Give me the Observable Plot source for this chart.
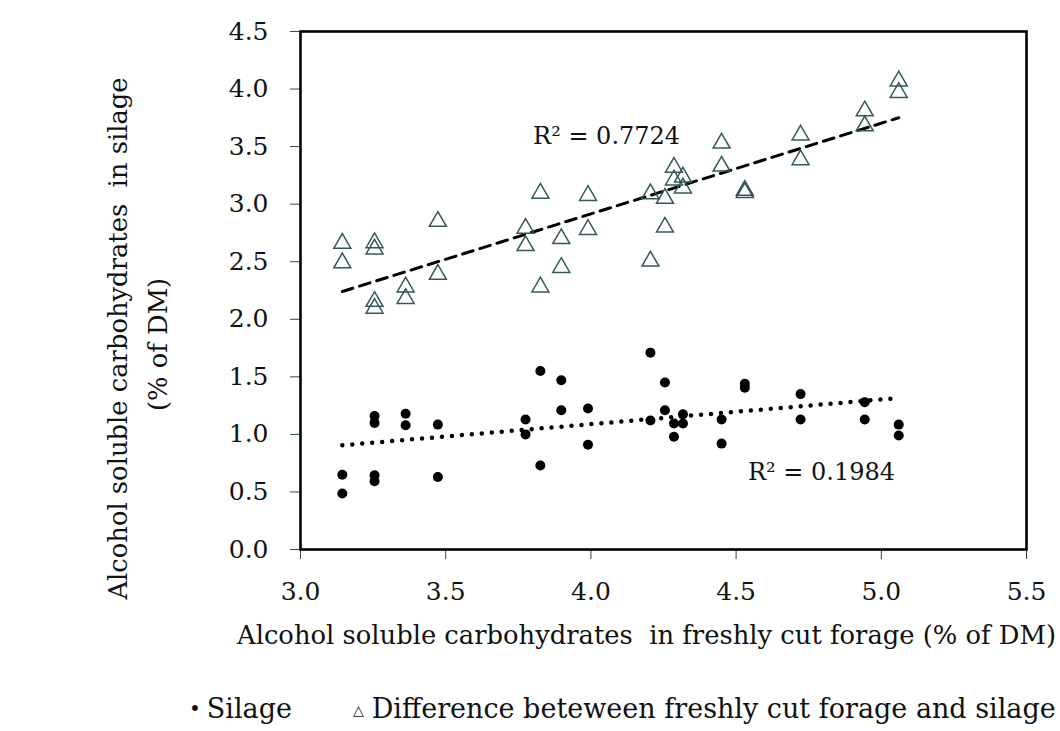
<!DOCTYPE html>
<html>
<head>
<meta charset="utf-8">
<script src="https://cdn.jsdelivr.net/npm/d3@7"></script>
<script src="https://cdn.jsdelivr.net/npm/@observablehq/plot@0.6"></script>
<style>
  html, body { margin: 0; padding: 0; background: #fff; }
  #wrap { position: relative; width: 1060px; height: 731px; font-family: "DejaVu Serif", serif; color: #111; }
  #legend { position: absolute; left: 189px; top: 691px; font-size: 27px; line-height: 36px; white-space: nowrap; }
  #legend .sym1 { font-size: 20px; margin-right: 6px; vertical-align: 2px; }
  #legend .sym2 { font-size: 14px; margin-left: 61px; margin-right: 8px; vertical-align: 3px; }
</style>
</head>
<body>
<div id="wrap">
  <div id="chart"></div>
  <div id="legend"><span class="sym1">•</span>Silage<span class="sym2">△</span>Difference beteween freshly cut forage and silage</div>
</div>
<script>
// Fresh forage ASC (% of DM) — x values, each appears for two samples
const freshX = [3.144, 3.144, 3.255, 3.255, 3.255, 3.255, 3.362, 3.362, 3.473, 3.473,
                3.775, 3.775, 3.826, 3.826, 3.898, 3.898, 3.99, 3.99, 4.205, 4.205,
                4.255, 4.255, 4.286, 4.286, 4.317, 4.317, 4.45, 4.45, 4.53, 4.53,
                4.722, 4.722, 4.943, 4.943, 5.06, 5.06];
// Silage ASC (% of DM)
const silageY = [0.65, 0.486, 1.16, 1.10, 0.645, 0.593, 1.18, 1.08, 1.085, 0.63,
                 1.13, 1.00, 1.55, 0.73, 1.47, 1.21, 1.225, 0.91, 1.71, 1.12,
                 1.45, 1.21, 1.094, 0.98, 1.175, 1.094, 1.13, 0.92, 1.44, 1.406,
                 1.35, 1.13, 1.28, 1.13, 1.085, 0.99];
// Difference between freshly cut forage and silage (% of DM)
const diffY = [2.49, 2.66, 2.095, 2.155, 2.61, 2.665, 2.18, 2.28, 2.39, 2.85,
               2.64, 2.79, 2.28, 3.095, 2.45, 2.70, 2.78, 3.075, 2.505, 3.09,
               2.80, 3.05, 3.21, 3.32, 3.14, 3.235, 3.33, 3.53, 3.10, 3.12,
               3.385, 3.60, 3.68, 3.81, 3.97, 4.07];

const xTicks = [3.0, 3.5, 4.0, 4.5, 5.0, 5.5];
const yTicks = [0.0, 0.5, 1.0, 1.5, 2.0, 2.5, 3.0, 3.5, 4.0, 4.5];

const xLabel = "Alcohol soluble carbohydrates  in freshly cut forage (% of DM)";
const yLabel1 = "Alcohol soluble carbohydrates  in silage";
const yLabel2 = "(% of DM)";

const r2Labels = [
  {x: 4.054, y: 3.59, text: "R² = 0.7724"},
  {x: 4.794, y: 0.674, text: "R² = 0.1984"}
];

const silage = freshX.map((x, i) => ({x, y: silageY[i]}));
const diff = freshX.map((x, i) => ({x, y: diffY[i]}));

const font = "'DejaVu Serif', serif";
const fmt = d3.format(".1f");

const plot = Plot.plot({
  width: 1060,
  height: 670,
  marginLeft: 300,
  marginRight: 34,
  marginTop: 31,
  marginBottom: 121,
  style: {fontFamily: font, fontSize: "25px", color: "#111", background: "white", overflow: "visible"},
  x: {domain: [3, 5.5]},
  y: {domain: [0, 4.5]},
  marks: [
    Plot.axisY({ticks: yTicks, tickFormat: fmt, tickSize: 10, tickPadding: 22, label: null, fontSize: 25, stroke: "#2c4a4a"}),
    Plot.axisX({ticks: xTicks, tickFormat: fmt, tickSize: 10, tickPadding: 23, label: null, fontSize: 25, stroke: "#2c4a4a"}),
    Plot.linearRegressionY(diff, {x: "x", y: "y", ci: 0, stroke: "black", strokeWidth: 3, strokeDasharray: "11,7"}),
    Plot.linearRegressionY(silage, {x: "x", y: "y", ci: 0, stroke: "black", strokeWidth: 4.5, strokeDasharray: "0,10", strokeLinecap: "round"}),
    Plot.dot(diff, {x: "x", y: "y", symbol: "triangle", r: 6.3, stroke: "#35585a", strokeWidth: 1.5, fill: "none"}),
    Plot.dot(silage, {x: "x", y: "y", r: 5, fill: "black", stroke: "none"}),
    Plot.text(r2Labels, {x: "x", y: "y", text: "text", fontSize: 24, fill: "#111"}),
    Plot.frame({stroke: "black", strokeWidth: 2.6}),
    Plot.text([xLabel], {frameAnchor: "bottom", textAnchor: "middle", dx: -17, dy: 94, fontSize: 25.8, fill: "#111"}),
    Plot.text([yLabel1], {frameAnchor: "left", textAnchor: "middle", rotate: -90, dx: -182, dy: 48, fontSize: 25.8, fill: "#111"}),
    Plot.text([yLabel2], {frameAnchor: "left", textAnchor: "middle", rotate: -90, dx: -142, dy: 54, fontSize: 25.8, fill: "#111"})
  ]
});
document.getElementById("chart").appendChild(plot);
</script>
</body>
</html>
